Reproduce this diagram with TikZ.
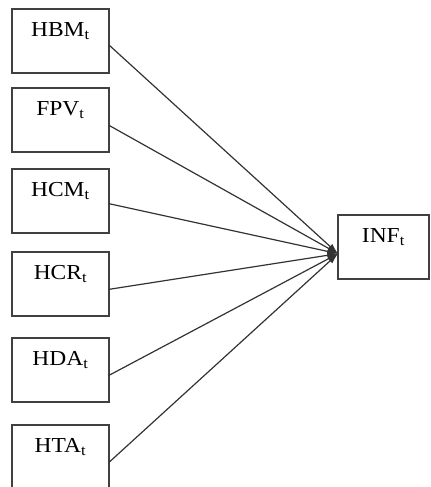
\documentclass[tikz,border=0pt]{standalone}
\usepackage{fontspec}
\setmainfont{Liberation Serif}[FakeStretch=1.1]
\usetikzlibrary{arrows.meta}

\begin{document}
\begin{tikzpicture}[x=0.75pt,y=0.75pt,yscale=-1,xscale=1]
	\tikzset{var/.style={draw=black!75, line width=0.8pt, anchor=north west, inner sep=0pt, outer sep=0pt, minimum width=72.75pt, text height=20.5pt, text depth=27.5pt, font=\fontsize{16}{18}\selectfont},
		conn/.style={draw=black!80, line width=0.9pt, -{Latex[length=8pt,width=5pt]}}}
	\useasboundingbox (0,0) rectangle (430,487);
	%independent variables
	\draw (12,9) node [var] (hbm) {HBM\textsubscript{t}};
	\draw (12,88) node [var] (fpv) {FPV\textsubscript{t}};
	\draw (12,169) node [var] (hcm) {HCM\textsubscript{t}};
	\draw (12,252) node [var] (hcr) {HCR\textsubscript{t}};
	\draw (12,338) node [var] (hda) {HDA\textsubscript{t}};
	\draw (12,425) node [var] (hta) {HTA\textsubscript{t}};
	%dependent variable
	\draw (338,215) node [var, minimum width=68.25pt] (inf) {INF\textsubscript{t}};
	%arrows
	\draw [conn] ([yshift=3]hbm.east) -- ([yshift=5]inf.west);
	\draw [conn] ([yshift=4]fpv.east) -- ([yshift=5]inf.west);
	\draw [conn] ([yshift=2]hcm.east) -- ([yshift=5]inf.west);
	\draw [conn] ([yshift=4]hcr.east) -- ([yshift=5]inf.west);
	\draw [conn] ([yshift=4]hda.east) -- ([yshift=5]inf.west);
	\draw [conn] ([yshift=4]hta.east) -- ([yshift=5]inf.west);
\end{tikzpicture}
\end{document}
